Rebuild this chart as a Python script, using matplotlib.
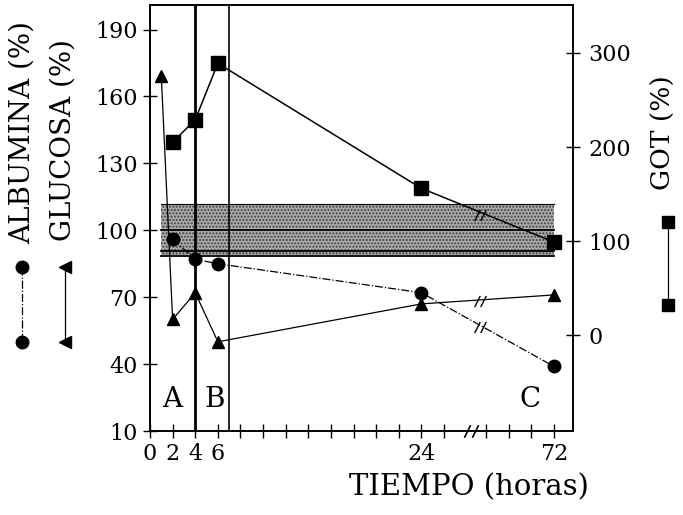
import matplotlib
matplotlib.use("Agg")
from matplotlib import pyplot as plt
from matplotlib.lines import Line2D

plt.rcParams['font.family'] = ['DejaVu Serif', 'DejaVu Sans']

# datos (horas, % del control)
albumina_h = [2, 4, 6, 24, 72]
albumina = [96, 87, 85, 72, 39]
glucosa_h = [1, 2, 4, 6, 24, 72]
glucosa = [169, 60, 72, 50, 67, 71]
got_h = [2, 4, 6, 24, 72]
got = [205, 229, 289, 156, 99]

# rango normal (banda gris)
banda_inf, banda_sup = 89, 112
lineas_banda = [112, 100, 90.5, 88.5]

tick_horas = [0, 2, 4, 6, 24, 72]


# eje x con corte entre 24 y 72 h
def pos(h):
    return h if h <= 24 else 35.7


fig = plt.figure(figsize=(6.83, 5.15), dpi=100)
ax = fig.add_axes([150 / 683, 1 - 431 / 515, 423 / 683, 426 / 515])
ax2 = ax.twinx()

ax.set_xlim(0, 37.4)
ax.set_ylim(10, 201)
ax2.set_ylim(-102, 351)

# banda
ax.fill_between([1, 35.7], banda_inf, banda_sup, facecolor='#aaaaaa',
                hatch='.....', edgecolor='#404040', linewidth=0)
for y in lineas_banda:
    ax.plot([1, 35.7], [y, y], color='k', lw=1.3 if y != 112 else 0.8)

# divisiones verticales
ax.axvline(4, color='k', lw=2)
ax.axvline(7, color='k', lw=1.2)

# series
ax.plot([pos(h) for h in albumina_h], albumina, color='k', lw=0.9, ls='-.',
        marker='o', ms=9)
ax.plot([pos(h) for h in glucosa_h], glucosa, color='k', lw=0.9, ls='-',
        marker='^', ms=9)
ax2.plot([pos(h) for h in got_h], got, color='k', lw=1.1, ls='-',
         marker='s', ms=10)

# marcas de corte
corte = 29.2
for xo in (-0.25, 0.25):
    ax2.plot(corte + xo, 128, marker=[(-1, -2), (1, 2)], ms=8, color='k', mew=1)
    ax.plot(corte + xo, 68.5, marker=[(-1, -2), (1, 2)], ms=8, color='k', mew=1)
    ax.plot(corte + xo, 56.5, marker=[(-1, -2), (1, 2)], ms=8, color='k', mew=1)
    ax.plot(28.4 + xo * 1.4, 10, marker=[(-1, -2), (1, 2)], ms=9, color='k',
            mew=1.2, clip_on=False)

# letras de zonas
ax.text(2, 24, 'A', fontsize=20, ha='center', va='center')
ax.text(5.7, 24, 'B', fontsize=20, ha='center', va='center')
ax.text(33.6, 24, 'C', fontsize=20, ha='center', va='center')

# ticks
ax.set_xticks([pos(h) for h in tick_horas])
ax.set_xticklabels([str(h) for h in tick_horas])
ax.set_xticks(list(range(8, 23, 2)) + [26, 29.7, 31.7, 33.7], minor=True)
ax.set_yticks([10, 40, 70, 100, 130, 160, 190])
ax2.set_yticks([0, 100, 200, 300])
ax.tick_params(axis='x', which='both', direction='inout', length=10, width=1,
               labelsize=16, pad=4)
ax.tick_params(axis='y', direction='inout', length=10, width=1, labelsize=16, pad=4)
ax2.tick_params(axis='y', direction='inout', length=10, width=1, labelsize=16, pad=6)
for a in (ax, ax2):
    for s in a.spines.values():
        s.set_linewidth(1.2)

# etiquetas
fig.text(469 / 683, 1 - 487 / 515, 'TIEMPO (horas)', fontsize=21,
         ha='center', va='center')
fig.text(22 / 683, 1 - 132 / 515, 'ALBUMINA (%)', fontsize=20, rotation=90,
         ha='center', va='center')
fig.text(63 / 683, 1 - 140 / 515, 'GLUCOSA (%)', fontsize=20, rotation=90,
         ha='center', va='center')
fig.text(663 / 683, 1 - 133 / 515, 'GOT (%)', fontsize=19, rotation=90,
         ha='center', va='center')


# simbolos de leyenda
def y_fig(py):
    return 1 - py / 515


fig.add_artist(Line2D([22 / 683] * 2, [y_fig(267), y_fig(342)], color='k', lw=0.9,
                      ls='-.', marker='o', ms=9))
fig.add_artist(Line2D([65 / 683] * 2, [y_fig(267), y_fig(342)], color='k', lw=0.9,
                      ls='-', marker='<', ms=9))
fig.add_artist(Line2D([668 / 683] * 2, [y_fig(222), y_fig(305)], color='k', lw=0.9,
                      ls='-', marker='s', ms=8))

fig.savefig('out.png', dpi=100)
